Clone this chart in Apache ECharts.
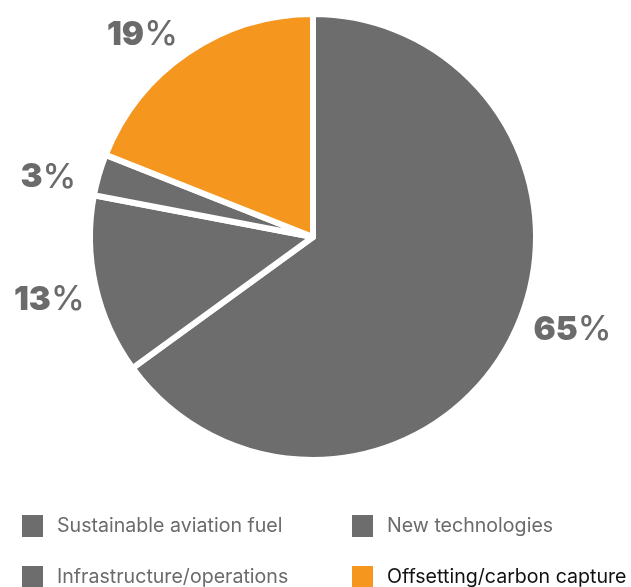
<!DOCTYPE html>
<html>
<head>
<meta charset="utf-8">
<script src="https://cdn.jsdelivr.net/npm/echarts@6/dist/echarts.min.js"></script>
<style>html,body{margin:0;padding:0;background:#fff;}#c{width:631px;height:587px;}</style>
</head>
<body>
<div id="c"></div>
<script>
var categories = ['Sustainable aviation fuel', 'New technologies', 'Infrastructure/operations', 'Offsetting/carbon capture'];
var values = [65, 13, 3, 19];
var colors = ['#6d6d6d', '#6d6d6d', '#6d6d6d', '#f5961f'];
var labelOffsets = [[0, -14], [12, 12], [0, 6], [8, -8]];
var legendPos = [[22, 515], [352, 515], [22, 566], [352, 566]];
var legendTextColors = ['#6b6b6b', '#6b6b6b', '#6b6b6b', '#111111'];

var chart = echarts.init(document.getElementById('c'), null, {renderer: 'canvas'});
var data = categories.map(function (name, i) {
  return { name: name, value: values[i], itemStyle: { color: colors[i] }, label: { offset: labelOffsets[i] } };
});
var legends = categories.map(function (name, i) {
  return {
    orient: 'horizontal', left: legendPos[i][0], top: legendPos[i][1], padding: 0,
    itemWidth: 21, itemHeight: 22, icon: 'rect', selectedMode: false,
    itemStyle: { borderWidth: 0 },
    textStyle: { fontFamily: 'Inter', fontSize: 19.6, color: legendTextColors[i], padding: [0, 0, 0, 9] },
    data: [name]
  };
});
chart.setOption({
  animation: false,
  legend: legends,
  series: [{
    type: 'pie',
    center: [313, 237],
    radius: [0, 223],
    startAngle: 90,
    clockwise: true,
    itemStyle: { borderColor: '#ffffff', borderWidth: 6 },
    label: {
      show: true,
      position: 'outside',
      overflow: 'none',
      formatter: '{n|{c}}{p|%}',
      rich: {
        n: { fontFamily: 'Inter', fontWeight: 900, fontSize: 33, color: '#6b6b6b' },
        p: { fontFamily: 'Inter', fontWeight: 500, fontSize: 34, color: '#6b6b6b' }
      }
    },
    labelLine: { show: false, length: 12, length2: 6 },
    emphasis: { disabled: true },
    data: data
  }]
});
</script>
</body>
</html>
